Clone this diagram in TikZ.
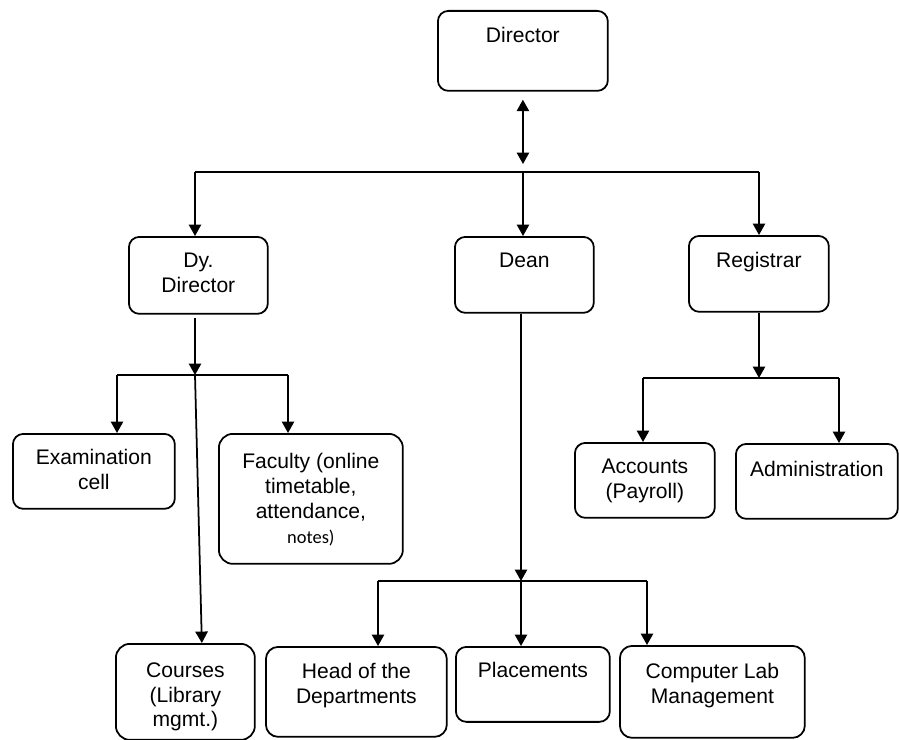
\documentclass[tikz,border=0pt]{standalone}
\usepackage{fontspec}
\setmainfont{Liberation Sans}
\newfontfamily\notefont{Carlito}
\usetikzlibrary{arrows.meta,positioning}
\tikzset{
  box/.style={draw, line width=1pt, rounded corners=6pt, anchor=north west, inner sep=0pt},
  txt/.style={inner sep=0pt, align=center, font=\fontsize{12}{14.2}\selectfont},
  arr/.style={line width=1pt, -{Triangle[length=6.5pt,width=7pt]}},
  arrboth/.style={line width=1pt, {Triangle[length=6.5pt,width=7pt]}-{Triangle[length=6.5pt,width=7pt]}},
  bus/.style={line width=1pt},
}

\begin{document}
\begin{tikzpicture}[x=0.02cm,y=-0.02cm]
  \useasboundingbox (0,0) rectangle (899,740);
  % Boxes (top left corner, sizes)
  \node[box, minimum width=3.4cm, minimum height=1.6cm] (dir) at (437,10) {};
  \node[box, minimum width=2.78cm, minimum height=1.54cm] (dydir) at (128,236) {};
  \node[box, minimum width=2.78cm, minimum height=1.52cm] (dean) at (454,236) {};
  \node[box, minimum width=2.8cm, minimum height=1.52cm] (reg) at (688,235) {};
  \node[box, minimum width=3.24cm, minimum height=1.5cm] (exam) at (12,433) {};
  \node[box, rounded corners=8pt, minimum width=3.68cm, minimum height=2.6cm] (fac) at (218,433) {};
  \node[box, minimum width=2.8cm, minimum height=1.5cm] (acc) at (574,442) {};
  \node[box, minimum width=3.24cm, minimum height=1.5cm] (adm) at (735,443) {};
  \node[box, rounded corners=8pt, minimum width=2.78cm, minimum height=1.92cm] (crs) at (115,643) {};
  \node[box, rounded corners=7pt, minimum width=3.62cm, minimum height=1.8cm] (hod) at (265,646) {};
  \node[box, minimum width=3.08cm, minimum height=1.5cm] (plc) at (455,646) {};
  \node[box, rounded corners=7pt, minimum width=3.7cm, minimum height=1.84cm] (lab) at (619,645) {};
  % Texts
  \node[txt, below=0.34cm of dir.north] (dirT) {Director};
  \node[txt, below=0.34cm of dydir.north] (dydirT) {Dy.\\Director};
  \node[txt, below=0.34cm of dean.north] (deanT) {Dean};
  \node[txt, below=0.34cm of reg.north] (regT) {Registrar};
  \node[txt, below=0.32cm of exam.north] (examT) {Examination\\cell};
  \node[txt, below=0.40cm of fac.north] (facT) {Faculty (online\\timetable,\\attendance,\\{\notefont\fontsize{10.5}{14.2}\selectfont notes)}};
  \node[txt, below=0.34cm of acc.north] (accT) {Accounts\\(Payroll)};
  \node[txt, below=0.36cm of adm.north] (admT) {Administration};
  \node[txt, below=0.38cm of crs.north] (crsT) {Courses\\(Library\\mgmt.)};
  \node[txt, below=0.34cm of hod.north] (hodT) {Head of the\\Departments};
  \node[txt, below=0.32cm of plc.north] (plcT) {Placements};
  \node[txt, below=0.36cm of lab.north] (labT) {Computer Lab\\Management};
  % Bus points
  \coordinate (topL) at (195,172);
  \coordinate (topM) at (523,172);
  \coordinate (topR) at (759,172);
  \coordinate (dyL) at (117,375);
  \coordinate (dyM) at (195,375);
  \coordinate (dyR) at (288,375);
  \coordinate (deanL) at (378,581);
  \coordinate (deanM) at (521,581);
  \coordinate (deanR) at (647,581);
  \coordinate (regL) at (643,378);
  \coordinate (regM) at (759,378);
  \coordinate (regR) at (839,378);
  % Director level
  \draw[arrboth, shorten <=0.16cm, shorten >=0.16cm] (dir.south) -- (topM);
  \draw[bus] (topL) -- (topR);
  \draw[arr] (topL) -- (topL |- dydir.north);
  \draw[arr] (topM) -- (topM |- dean.north);
  \draw[arr] (topR) -- (topR |- reg.north);
  % Dy. Director
  \draw[arr, shorten <=2pt] (dyM |- dydir.south) -- (dyM);
  \draw[bus] (dyL) -- (dyR);
  \draw[arr] (dyL) -- (dyL |- exam.north);
  \draw[arr] (dyR) -- (dyR |- fac.north);
  \draw[arr] (dyM) -- ([xshift=0.33cm]crs.north);
  % Dean
  \draw[arr] (deanM |- dean.south) -- (deanM);
  \draw[bus] (deanL) -- (deanR);
  \draw[arr] (deanL) -- (deanL |- hod.north);
  \draw[arr] (deanM) -- (deanM |- plc.north);
  \draw[arr] (deanR) -- (deanR |- lab.north);
  % Registrar
  \draw[arr] (regM |- reg.south) -- (regM);
  \draw[bus] (regL) -- (regR);
  \draw[arr] (regL) -- (regL |- acc.north);
  \draw[arr] (regR) -- (regR |- adm.north);
\end{tikzpicture}
\end{document}
